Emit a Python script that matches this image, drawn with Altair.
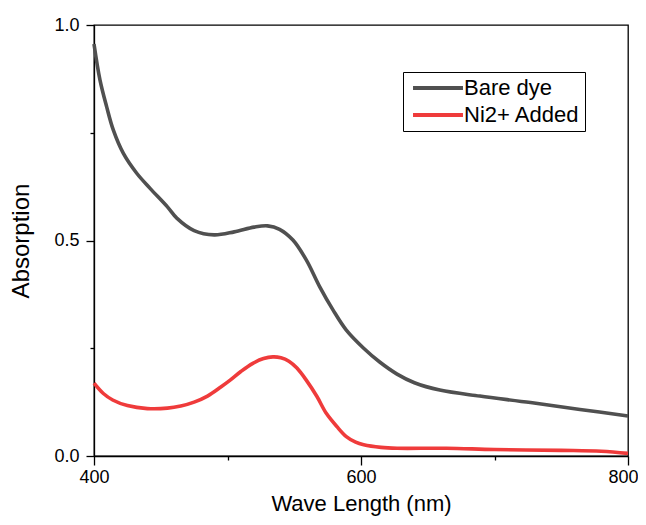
import altair as alt
import pandas as pd

# Bare dye spectrum (wavelength nm, absorption)
wl_bare = [400, 404.5, 409.5, 414.5, 422, 432, 442, 455, 462, 475, 490, 505, 520,
           530, 539, 549, 559, 569, 579, 589, 602, 614, 627, 640, 659, 689, 727,
           764, 800]
abs_bare = [0.956, 0.872, 0.810, 0.756, 0.702, 0.656, 0.621, 0.578, 0.552, 0.523,
            0.513, 0.520, 0.531, 0.534, 0.526, 0.501, 0.455, 0.393, 0.339, 0.292,
            0.250, 0.218, 0.190, 0.170, 0.153, 0.139, 0.124, 0.108, 0.093]

# Ni2+ added spectrum
wl_ni = [400, 407, 414, 425, 440, 455, 465, 475, 485, 495, 502, 510, 519, 527, 534,
         540, 546, 552, 559, 567, 574, 582, 589, 596, 602, 615, 627, 664, 700, 750,
         780, 800]
abs_ni = [0.169, 0.145, 0.130, 0.117, 0.110, 0.111, 0.116, 0.125, 0.139, 0.160,
          0.176, 0.196, 0.215, 0.226, 0.230, 0.228, 0.220, 0.204, 0.176, 0.138,
          0.099, 0.068, 0.045, 0.032, 0.026, 0.020, 0.018, 0.018, 0.015, 0.013,
          0.011, 0.006]

series = ["Bare dye", "Ni2+ Added"]
colors = ["#505050", "#ef3b3b"]

x_major = [400, 600, 800]
x_minor = [500, 700]
y_major = [0.0, 0.5, 1.0]
y_minor = [0.25, 0.75]

df = pd.concat([
    pd.DataFrame({"wl": wl_bare, "a": abs_bare, "series": series[0]}),
    pd.DataFrame({"wl": wl_ni, "a": abs_ni, "series": series[1]}),
])

FONT = "Liberation Sans"
xs = alt.Scale(domain=[400, 800], nice=False, zero=False)
ys = alt.Scale(domain=[0, 1], nice=False, zero=False)

base = alt.Chart(df)

lines = base.mark_line(strokeWidth=3.6, interpolate="catmull-rom").encode(
    x=alt.X("wl:Q", scale=xs, axis=alt.Axis(
        values=x_major, title="Wave Length (nm)", tickSize=9, labelPadding=3,
        titlePadding=7, titleFontSize=22, grid=False, orient="bottom",
        labelFlush=False,
        labelOffset={"condition": {"test": "datum.value == 800", "value": -5},
                     "value": 0})),
    y=alt.Y("a:Q", scale=ys, axis=alt.Axis(
        values=y_major, format=".1f", title="Absorption", tickSize=8,
        labelPadding=7, titlePadding=20, titleFontSize=24, grid=False,
        orient="left", labelFlush=False)),
    color=alt.Color("series:N", scale=alt.Scale(domain=series, range=colors),
                    legend=alt.Legend(
                        title=None, orient="none", legendX=309, legendY=47,
                        strokeColor="black", fillColor="white", padding=5,
                        symbolType="M-4,0H4", symbolSize=156, symbolOffset=19,
                        symbolStrokeWidth=4, labelFontSize=22, labelFont=FONT,
                        labelColor="black", labelOffset=15, rowPadding=5)),
    detail="series:N",
)

minor = base.mark_line(opacity=0).encode(
    x=alt.X("wl:Q", scale=xs, axis=alt.Axis(
        values=x_minor, labels=False, domain=False, tickSize=4, title=None,
        grid=False, orient="bottom")),
    y=alt.Y("a:Q", scale=ys, axis=alt.Axis(
        values=y_minor, labels=False, domain=False, tickSize=4, title=None,
        grid=False, orient="left")),
    detail="series:N",
)

chart = alt.layer(minor, lines).resolve_axis(
    x="independent", y="independent"
).properties(
    width=534, height=431, autosize="none", background="white",
    padding={"left": 86, "top": 17, "right": 10, "bottom": 61},
).configure_view(
    stroke="black", strokeWidth=1.3
).configure_axis(
    domainColor="black", domainWidth=1.3, tickColor="black", tickWidth=1.3,
    labelColor="black", labelFont=FONT, labelFontSize=18,
    titleColor="black", titleFont=FONT, titleFontWeight="normal",
)

chart.save("out.html", embed_options={"renderer": "svg", "actions": False})
